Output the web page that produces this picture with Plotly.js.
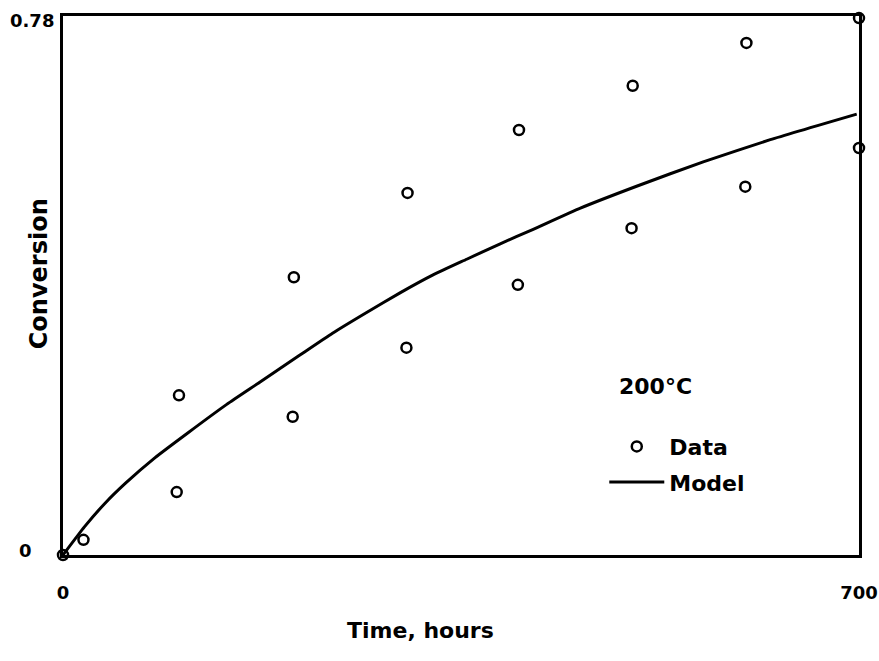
<!DOCTYPE html>
<html>
<head>
<meta charset="utf-8">
<script src="https://cdn.plot.ly/plotly-3.0.1.min.js"></script>
<style>html,body{margin:0;padding:0;background:#fff;}#chart{width:879px;height:661px;}</style>
</head>
<body>
<div id="chart"></div>
<script>
// Measured data (hours, conversion)
const dataTime = [0, 18, 100, 102, 202, 203, 302, 303, 400, 401, 500, 501, 600, 601, 700, 700];
const dataConv = [0.0, 0.022, 0.091, 0.231, 0.200, 0.402, 0.300, 0.524, 0.391, 0.615, 0.473, 0.679, 0.533, 0.741, 0.589, 0.777];

// Model curve
const modelTime = [0, 19, 37, 55, 81, 110, 144, 173, 208, 237, 267, 296, 325, 355, 384, 413, 455, 505, 563, 622, 698];
const modelConv = [0, 0.041, 0.075, 0.104, 0.141, 0.177, 0.218, 0.250, 0.289, 0.321, 0.351, 0.379, 0.405, 0.428, 0.450, 0.471, 0.502, 0.534, 0.569, 0.601, 0.638];

const xTicks = [0, 700];
const xTickLabels = ['0', '700'];
const yTicks = [0, 0.78];
const yTickLabels = ['0', '0.78'];

const font = 'DejaVu Sans, Liberation Sans, Arial, sans-serif';

const traces = [
  {
    x: dataTime, y: dataConv, mode: 'markers', name: '<b>Data</b>', legendgroup: 'a',
    marker: {symbol: 'circle-open', size: 10, color: '#000', line: {width: 2.5, color: '#000'}},
    cliponaxis: false
  },
  {
    x: modelTime, y: modelConv, mode: 'lines', name: '<b>Model</b>', legendgroup: 'b',
    line: {color: '#000', width: 3, shape: 'spline', smoothing: 0.5}
  }
];

// y tick labels placed to the left like the original
const yTickX = [-0.0477, -0.039];
const yTickShift = [5, -4];
const yTickAnnotations = yTicks.map((v, i) => ({
  xref: 'paper', yref: 'y', x: yTickX[i], y: v, xanchor: 'center', yanchor: 'middle',
  yshift: yTickShift[i], text: '<b>' + yTickLabels[i] + '</b>', showarrow: false,
  font: {size: 18, family: font}
}));

const layout = {
  width: 879, height: 661,
  paper_bgcolor: '#fff', plot_bgcolor: '#fff',
  margin: {l: 63, r: 20, t: 16, b: 106},
  font: {family: font, color: '#000'},
  xaxis: {
    range: [0, 700], tickvals: xTicks, ticktext: xTickLabels.map(s => '<b>' + s + '</b>'),
    showgrid: false, zeroline: false, showline: true, mirror: true, linecolor: '#000', linewidth: 3,
    ticks: '', ticklabelstandoff: 19, tickfont: {size: 18, family: font}
  },
  yaxis: {
    range: [0, 0.78], tickvals: yTicks, showticklabels: false,
    showgrid: false, zeroline: false, showline: true, mirror: true, linecolor: '#000', linewidth: 3,
    ticks: ''
  },
  showlegend: true,
  legend: {
    x: 0.68, y: 0.24, xanchor: 'left', yanchor: 'top',
    font: {size: 22, family: font}, bgcolor: 'rgba(0,0,0,0)', borderwidth: 0,
    tracegroupgap: 4, itemwidth: 55
  },
  annotations: yTickAnnotations.concat([
    {xref: 'paper', yref: 'paper', x: 0.4485, y: -0.141, xanchor: 'center', yanchor: 'middle',
     text: '<b>Time, hours</b>', showarrow: false, font: {size: 22, family: font}},
    {xref: 'paper', yref: 'paper', x: -0.030, y: 0.521, xanchor: 'center', yanchor: 'middle',
     textangle: -90, text: '<b>Conversion</b>', showarrow: false, font: {size: 24, family: font}},
    {xref: 'paper', yref: 'paper', x: 0.696, y: 0.312, xanchor: 'left', yanchor: 'middle',
     text: '<b>200°C</b>', showarrow: false, font: {size: 22, family: font}}
  ])
};

Plotly.newPlot('chart', traces, layout, {displayModeBar: false, staticPlot: true});
</script>
</body>
</html>
